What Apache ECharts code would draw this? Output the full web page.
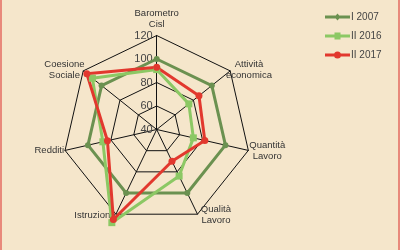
<!DOCTYPE html>
<html>
<head>
<meta charset="utf-8">
<script src="https://cdn.jsdelivr.net/npm/echarts@6/dist/echarts.min.js"></script>
<style>
html,body{margin:0;padding:0;background:#F5E6CB;}
#c{width:400px;height:250px;}
</style>
</head>
<body>
<div id="c"></div>
<script>
// Indicators listed clockwise from the top, as in the reference
var indicators = ['Barometro\nCisl', 'Attività\neconomica', 'Quantità\nLavoro', 'Qualità\nLavoro', 'Istruzione', 'Redditi', 'Coesione\nSociale'];
var seriesNames = ['I 2007', 'II 2016', 'II 2017'];
var valuesI2007  = [100, 100, 100, 100, 100, 100, 100];
var valuesII2016 = [91, 75, 72, 84, 128, 87, 110];
var valuesII2017 = [93, 86, 82, 70, 125, 83, 116];
var axisMin = 40, axisMax = 120, axisSplit = 4;

// ECharts radar runs counter-clockwise: reorder so it reads clockwise
var order = [0, 6, 5, 4, 3, 2, 1];
function reorder(a){ return order.map(function(i){ return a[i]; }); }

var font = "'Liberation Sans Narrow','Liberation Sans',sans-serif";
var colors = ['#6B9150', '#8CC864', '#E2382E'];
var symbols = ['circle', 'rect', 'circle'];
var symSizes = [6, 7, 7];
var legendIcons = [
  'path://M0,2H25V5H0Z M12.5,0L15.5,3.5L12.5,7L9.5,3.5Z',
  'path://M0,2H25V5H0Z M9.5,0H15.5V7H9.5Z',
  'path://M0,2H25V5H0Z M9,3.5A3.5,3.5,0,1,1,16,3.5A3.5,3.5,0,1,1,9,3.5Z'
];
var allVals = [valuesI2007, valuesII2016, valuesII2017];

var ind = reorder(indicators).map(function(n, k){
  var o = {name: n, min: axisMin, max: axisMax};
  if (k === 0) {
    o.axisLabel = {show: true, color: '#444', fontSize: 11, fontFamily: font, margin: 4, showMinLabel: true, showMaxLabel: true};
  }
  return o;
});

var chart = echarts.init(document.getElementById('c'), null, {renderer: 'canvas'});
chart.setOption({
  backgroundColor: '#F5E6CB',
  animation: false,
  graphic: [
    {type: 'rect', left: 0, top: 0, shape: {width: 2, height: 250}, style: {fill: '#E8897B'}},
    {type: 'rect', left: 398, top: 0, shape: {width: 2, height: 250}, style: {fill: '#E8897B'}}
  ],
  legend: {
    orient: 'vertical',
    left: 320,
    top: 7,
    itemWidth: 25,
    itemHeight: 7,
    itemGap: 9,
    textStyle: {color: '#444', fontSize: 10, fontFamily: font, padding: [0, 0, 0, -4]},
    data: seriesNames.map(function(n, i){ return {name: n, icon: legendIcons[i], itemStyle: {color: colors[i]}}; })
  },
  radar: {
    center: [156.7, 129.5],
    radius: 94,
    startAngle: 90,
    shape: 'polygon',
    splitNumber: axisSplit,
    nameGap: 1,
    axisName: {
      color: '#333', fontSize: 9.5, fontFamily: font, lineHeight: 11,
      formatter: function(name){
        if (name.indexOf('\n') < 0) return name;
        return name.split('\n').map(function(s){ return '{c|' + s + '}'; }).join('\n');
      },
      rich: {c: {width: 36, align: 'center', color: '#333', fontSize: 9.5, fontFamily: font, lineHeight: 11}}
    },
    axisLine: {lineStyle: {color: '#111', width: 1}},
    splitLine: {lineStyle: {color: '#111', width: 1}},
    splitArea: {show: false},
    axisLabel: {show: false},
    indicator: ind
  },
  series: [{
    type: 'radar',
    data: seriesNames.map(function(n, i){
      return {
        name: n,
        value: reorder(allVals[i]),
        symbol: symbols[i],
        symbolSize: symSizes[i],
        itemStyle: {color: colors[i]},
        lineStyle: {color: colors[i], width: 3}
      };
    })
  }]
});
</script>
</body>
</html>
